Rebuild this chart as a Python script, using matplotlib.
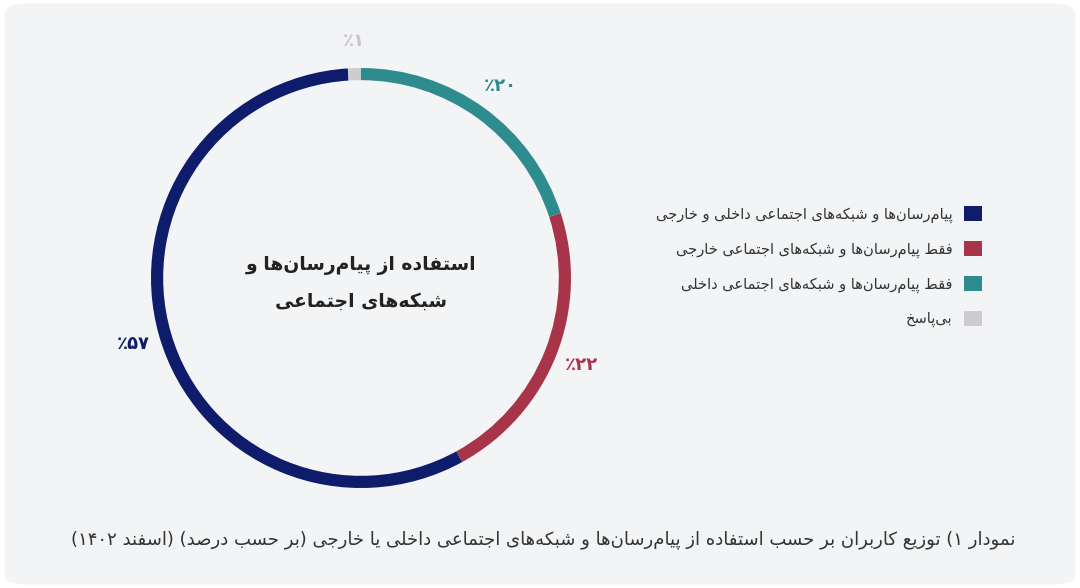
import matplotlib
matplotlib.use("Agg")
import matplotlib.pyplot as plt
from matplotlib.patches import FancyBboxPatch
import numpy as np

# ---------- data ----------
categories = ["فقط پیام‌رسان‌ها و شبکه‌های اجتماعی داخلی",
              "فقط پیام‌رسان‌ها و شبکه‌های اجتماعی خارجی",
              "پیام‌رسان‌ها و شبکه‌های اجتماعی داخلی و خارجی",
              "بی‌پاسخ"]
values = [20, 22, 57, 1]
colors = ["#2e8c8f", "#a8344a", "#0f1c6b", "#cdcdcf"]
legend_order = [2, 1, 0, 3]
center_text = ["استفاده از پیام‌رسان‌ها و", "شبکه‌های اجتماعی"]
caption = "نمودار ۱) توزیع کاربران بر حسب استفاده از پیام‌رسان‌ها و شبکه‌های اجتماعی داخلی یا خارجی (بر حسب درصد) (اسفند ۱۴۰۲)"

# ---------- minimal Arabic/Persian shaping ----------
FORMS = {
    'ا': (0xFE8D, 0xFE8E, None, None), 'آ': (0xFE81, 0xFE82, None, None),
    'ب': (0xFE8F, 0xFE90, 0xFE91, 0xFE92), 'ت': (0xFE95, 0xFE96, 0xFE97, 0xFE98),
    'ث': (0xFE99, 0xFE9A, 0xFE9B, 0xFE9C), 'ج': (0xFE9D, 0xFE9E, 0xFE9F, 0xFEA0),
    'ح': (0xFEA1, 0xFEA2, 0xFEA3, 0xFEA4), 'خ': (0xFEA5, 0xFEA6, 0xFEA7, 0xFEA8),
    'د': (0xFEA9, 0xFEAA, None, None), 'ذ': (0xFEAB, 0xFEAC, None, None),
    'ر': (0xFEAD, 0xFEAE, None, None), 'ز': (0xFEAF, 0xFEB0, None, None),
    'ژ': (0xFB8A, 0xFB8B, None, None),
    'س': (0xFEB1, 0xFEB2, 0xFEB3, 0xFEB4), 'ش': (0xFEB5, 0xFEB6, 0xFEB7, 0xFEB8),
    'ص': (0xFEB9, 0xFEBA, 0xFEBB, 0xFEBC), 'ض': (0xFEBD, 0xFEBE, 0xFEBF, 0xFEC0),
    'ط': (0xFEC1, 0xFEC2, 0xFEC3, 0xFEC4), 'ظ': (0xFEC5, 0xFEC6, 0xFEC7, 0xFEC8),
    'ع': (0xFEC9, 0xFECA, 0xFECB, 0xFECC), 'غ': (0xFECD, 0xFECE, 0xFECF, 0xFED0),
    'ف': (0xFED1, 0xFED2, 0xFED3, 0xFED4), 'ق': (0xFED5, 0xFED6, 0xFED7, 0xFED8),
    'ل': (0xFEDD, 0xFEDE, 0xFEDF, 0xFEE0), 'م': (0xFEE1, 0xFEE2, 0xFEE3, 0xFEE4),
    'ن': (0xFEE5, 0xFEE6, 0xFEE7, 0xFEE8), 'ه': (0xFEE9, 0xFEEA, 0xFEEB, 0xFEEC),
    'و': (0xFEED, 0xFEEE, None, None),
    'ی': (0xFBFC, 0xFBFD, 0xFBFE, 0xFBFF), 'ک': (0xFB8E, 0xFB8F, 0xFB90, 0xFB91),
    'گ': (0xFB92, 0xFB93, 0xFB94, 0xFB95), 'پ': (0xFB56, 0xFB57, 0xFB58, 0xFB59),
    'چ': (0xFB7A, 0xFB7B, 0xFB7C, 0xFB7D),
}

def dual(c):
    return c in FORMS and FORMS[c][2] is not None

def shape(s):
    out = []
    n = len(s)
    for i, c in enumerate(s):
        if c not in FORMS:
            out.append(c)
            continue
        prev = s[i - 1] if i > 0 else ''
        nxt = s[i + 1] if i < n - 1 else ''
        jp = dual(prev)
        jn = dual(c) and nxt in FORMS
        iso, fin, ini, med = FORMS[c]
        if jp and jn:
            out.append(chr(med))
        elif jp:
            out.append(chr(fin))
        elif jn:
            out.append(chr(ini))
        else:
            out.append(chr(iso))
    return ''.join(out).replace('\u200c', '')

DIG = set('۰۱۲۳۴۵۶۷۸۹0123456789')
MIRROR = {'(': ')', ')': '('}

def rtl(s):
    sh = shape(s)
    runs, cur, isd = [], '', None
    for ch in sh:
        d = ch in DIG
        if cur and d != isd:
            runs.append((isd, cur)); cur = ''
        cur += ch; isd = d
    if cur:
        runs.append((isd, cur))
    res = ''
    for d, r in reversed(runs):
        res += r if d else ''.join(MIRROR.get(c, c) for c in reversed(r))
    return res

def fa(n):
    return ''.join('۰۱۲۳۴۵۶۷۸۹'[int(c)] for c in str(n))

plt.rcParams['font.family'] = ['DejaVu Sans']

W, H = 1080, 588
fig = plt.figure(figsize=(W / 100, H / 100), dpi=100)
fig.patch.set_facecolor("white")
bg = FancyBboxPatch((0.004, 0.006), 0.992, 0.988, boxstyle="round,pad=0,rounding_size=0.02",
                    transform=fig.transFigure, facecolor="#f3f4f6", edgecolor="none", zorder=-10)
fig.patches.append(bg)

cx, cy, R = 361, 310, 210
ax = fig.add_axes([(cx - R) / W, (cy - R) / H, 2 * R / W, 2 * R / H], zorder=2)
ax.set_facecolor("none")
wedges, _ = ax.pie(values, colors=colors, startangle=90, counterclock=False,
                   wedgeprops=dict(width=0.058, edgecolor="none"), radius=1.0)
ax.set_xlim(-1, 1); ax.set_ylim(-1, 1); ax.set_aspect("equal"); ax.axis("off")

for w, v, c in zip(wedges, values, colors):
    ang = np.deg2rad((w.theta1 + w.theta2) / 2)
    r = 1.13
    tc = "#c6c6c8" if v == 1 else c
    ax.text(r * np.cos(ang), r * np.sin(ang), "٪" + fa(v), ha="center", va="center",
            fontsize=13, fontweight="bold", color=tc, clip_on=False)

ax.text(0, 0.06, rtl(center_text[0]), ha="center", va="center", fontsize=13.5,
        fontweight="bold", color="#222222")
ax.text(0, -0.11, rtl(center_text[1]), ha="center", va="center", fontsize=13.5,
        fontweight="bold", color="#222222")

leg = fig.legend([wedges[i] for i in legend_order], [rtl(categories[i]) for i in legend_order],
                 loc="upper right", bbox_to_anchor=(995 / W, 1 - 193 / H), frameon=False,
                 markerfirst=False, fontsize=10.5, labelspacing=1.25, handlelength=1.2,
                 handleheight=1.2, handletextpad=0.8, labelcolor="#333333")

fig.text(1015 / W, 1 - 540 / H, rtl(caption), ha="right", va="center", fontsize=13.0,
         color="#333333")

fig.savefig("out.png", dpi=100, facecolor=fig.get_facecolor())
